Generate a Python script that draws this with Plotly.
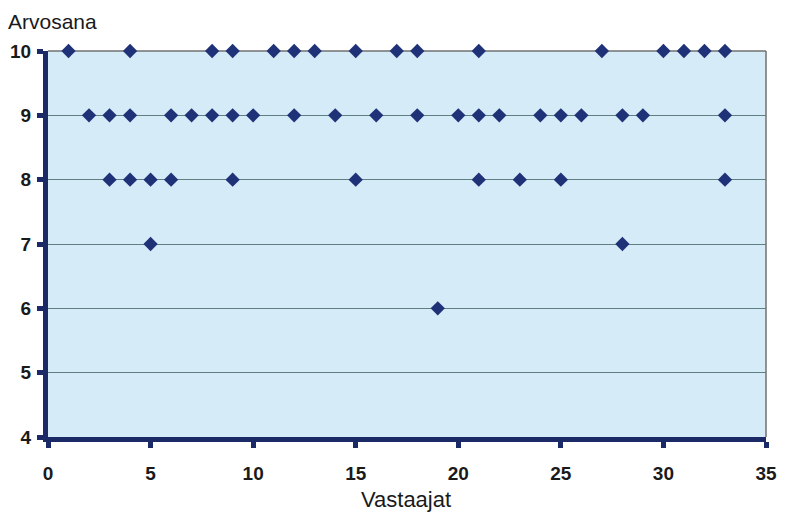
import plotly.graph_objects as go

# Respondent number and grade (each respondent may give several grades)
respondents = [1, 2, 3, 3, 4, 4, 4, 5, 5, 6, 6, 7, 8, 8, 9, 9, 9, 10, 11, 12, 12,
               13, 14, 15, 15, 16, 17, 18, 18, 19, 20, 21, 21, 21, 22, 23, 24,
               25, 25, 26, 27, 28, 28, 29, 30, 31, 32, 33, 33, 33]
grades = [10, 9, 9, 8, 10, 9, 8, 8, 7, 9, 8, 9, 10, 9, 10, 9, 8, 9, 10, 10, 9,
          10, 9, 10, 8, 9, 10, 10, 9, 6, 9, 10, 9, 8, 9, 8, 9,
          9, 8, 9, 10, 9, 7, 9, 10, 10, 10, 10, 9, 8]

x_ticks = [0, 5, 10, 15, 20, 25, 30, 35]
y_ticks = [4, 5, 6, 7, 8, 9, 10]

navy = "#1b2a66"
fig = go.Figure()
fig.add_trace(go.Scatter(
    x=respondents, y=grades, mode="markers",
    marker=dict(symbol="diamond", size=11, color="#1f3278",
                line=dict(width=0)),
    cliponaxis=False, showlegend=False,
))

tickfont = dict(family="Liberation Sans", size=19, color="#1a1a1a", weight="bold")
fig.update_layout(
    width=771, height=505,
    margin=dict(l=40, r=13, t=43, b=76, autoexpand=False),
    paper_bgcolor="white",
    plot_bgcolor="#d5ebf7",
    xaxis=dict(range=[0, 35], tickvals=x_ticks, showgrid=False, zeroline=False,
               showline=True, linewidth=5, linecolor=navy,
               ticks="outside", ticklen=6, tickwidth=5, tickcolor=navy,
               ticklabelstandoff=9, automargin=False, ticklabeloverflow="allow",
               tickfont=tickfont),
    yaxis=dict(range=[4, 10], tickvals=y_ticks, showgrid=True,
               gridcolor="#5f8080", gridwidth=1, zeroline=False,
               showline=True, linewidth=5, linecolor=navy,
               ticks="outside", ticklen=6, tickwidth=5, tickcolor=navy,
               ticklabelstandoff=2, automargin=False,
               tickfont=tickfont),
    shapes=[
        dict(type="line", xref="paper", yref="paper", x0=0, x1=1, y0=1, y1=1,
             line=dict(color="#707070", width=1.5), layer="below"),
        dict(type="line", xref="paper", yref="paper", x0=1, x1=1, y0=0, y1=1,
             line=dict(color="#707070", width=1.5), layer="below"),
    ],
    annotations=[
        dict(text="Arvosana", xref="paper", yref="paper", x=0, y=1,
             xanchor="left", yanchor="middle", xshift=-42, yshift=30,
             showarrow=False,
             font=dict(family="Liberation Sans", size=21, color="#1a1a1a")),
        dict(text="Vastaajat", xref="paper", yref="paper", x=0.5, y=0,
             xanchor="center", yanchor="middle", xshift=-1, yshift=-62,
             showarrow=False,
             font=dict(family="Liberation Sans", size=22, color="#1a1a1a")),
    ],
)
fig.write_html("out.html")
